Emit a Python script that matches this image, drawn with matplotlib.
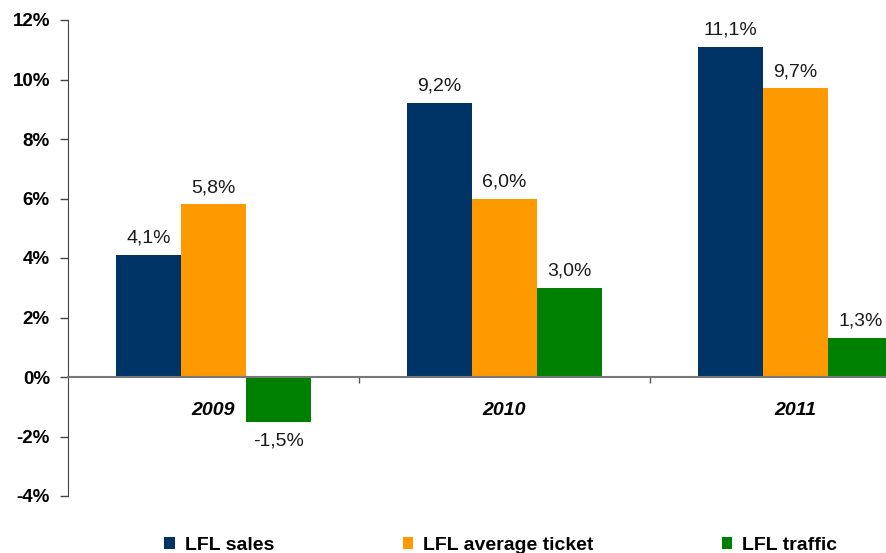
import matplotlib
matplotlib.use("Agg")
import matplotlib.pyplot as plt
import numpy as np

years = ["2009", "2010", "2011"]
series_names = ["LFL sales", "LFL average ticket", "LFL traffic"]
lfl_sales = [4.1, 9.2, 11.1]
lfl_ticket = [5.8, 6.0, 9.7]
lfl_traffic = [-1.5, 3.0, 1.3]
yticks = [-4, -2, 0, 2, 4, 6, 8, 10, 12]

colors = ["#003366", "#FF9900", "#008000"]
plt.rcParams['font.family'] = ['Liberation Sans', 'DejaVu Sans']

fig = plt.figure(figsize=(8.87, 5.53), dpi=100)
ax = fig.add_axes([68/887, 57/553, 873/887, 476/553])

x = np.arange(len(years))
w = 0.224
series = [lfl_sales, lfl_ticket, lfl_traffic]
for i, (vals, name, c) in enumerate(zip(series, series_names, colors)):
    pos = x + (i - 1) * w
    ax.bar(pos, vals, width=w, color=c, label=name, zorder=2)
    for px, v in zip(pos, vals):
        txt = f"{v:.1f}%".replace(".", ",")
        if v >= 0:
            ax.annotate(txt, (px, v), xytext=(0, 6), textcoords="offset points",
                        ha="center", va="bottom", fontsize=14, color="#1a1a1a")
        else:
            ax.annotate(txt, (px, v), xytext=(0, -8), textcoords="offset points",
                        ha="center", va="top", fontsize=14, color="#1a1a1a")

ax.set_xlim(-0.5, 2.5)
ax.set_ylim(-4, 12)
ax.set_yticks(yticks)
ax.set_yticklabels([f"{t}%" for t in yticks], fontsize=13.5, fontweight="bold")
ax.tick_params(axis="y", direction="out", length=6, width=1, color="#444444", pad=7)

for s in ["top", "right"]:
    ax.spines[s].set_visible(False)
ax.spines["left"].set_color("#444444")
ax.spines["bottom"].set_position(("data", 0))
ax.spines["bottom"].set_color("#777777")
ax.spines["bottom"].set_linewidth(1.5)
ax.spines["bottom"].set_zorder(3)

ax.set_xticks(x)
ax.set_xticklabels(years, fontsize=14, fontweight="bold", style="italic")
ax.tick_params(axis="x", which="major", length=0, pad=18)
ax.set_xticks([0.5, 1.5], minor=True)
ax.tick_params(axis="x", which="minor", length=4, width=1, color="#555555", direction="out")

leg = fig.legend(loc="lower left", bbox_to_anchor=(147/887, -0.033), ncol=3, frameon=False,
                 handlelength=0.55, handleheight=0.6, handletextpad=0.5,
                 columnspacing=6.6, prop={"weight": "bold", "size": 14})

fig.savefig("out.png", dpi=100)
